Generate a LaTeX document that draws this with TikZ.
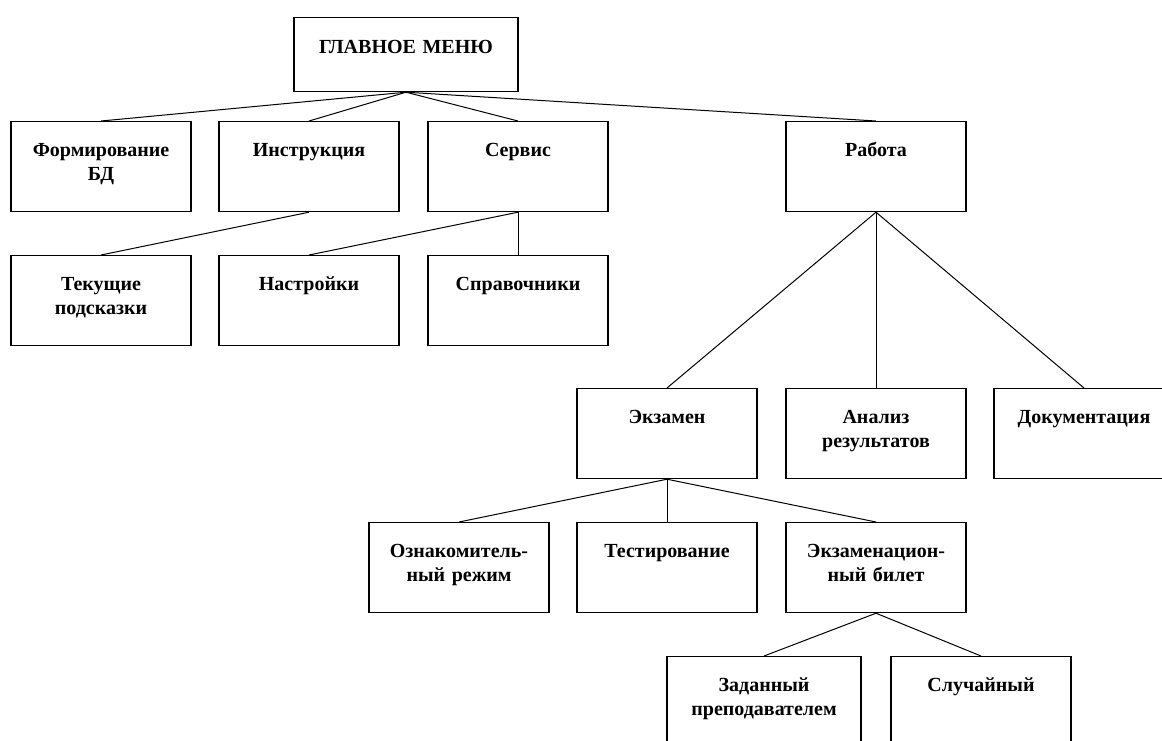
\documentclass[tikz,border=0pt]{standalone}
\usepackage{fontspec}
\setmainfont{Liberation Serif}
\tikzset{
  mbox/.style={draw=black, line width=1.2pt, anchor=north, align=center,
               text width=170pt, inner xsep=5pt, inner ysep=0pt,
               text height=35pt, text depth=55pt,
               font=\bfseries\fontsize{20}{24}\selectfont},
  mtop/.style={mbox, text width=214pt, text height=36pt, text depth=38pt},
  mline/.style={draw=black, line width=1pt},
}

\begin{document}
\begin{tikzpicture}[x=1pt,y=-1pt]
\useasboundingbox (0,0) rectangle (1162,740);
\clip (0,0) rectangle (1162,740);
\node[mtop] (menu) at (406,17) {ГЛАВНОЕ МЕНЮ};
% first level
\node[mbox] (fbd) at (101,121) {Формирование\\БД};
\node[mbox] (instr) at (309,121) {Инструкция};
\node[mbox] (serv) at (518,121) {Сервис};
\node[mbox] (rab) at (876,121) {Работа};
% second level
\node[mbox] (tek) at (101,255) {Текущие\\подсказки};
\node[mbox] (nastr) at (309,255) {Настройки};
\node[mbox] (sprav) at (518,255) {Справочники};
\node[mbox] (ekz) at (667,388) {Экзамен};
\node[mbox] (anal) at (876,388) {Анализ\\результатов};
\node[mbox] (doc) at (1084,388) {Документация};
\node[mbox] (oznak) at (459,522) {Ознакомитель-\\ный режим};
\node[mbox] (test) at (667,522) {Тестирование};
\node[mbox] (bilet) at (876,522) {Экзаменацион-\\ный билет};
\node[mbox,text width=184pt] (zad) at (764,656) {Заданный\\преподавателем};
\node[mbox] (slu) at (981,656) {Случайный};
\draw[mline] (menu.south)--(fbd.north); \draw[mline] (menu.south)--(instr.north);
\draw[mline] (menu.south)--(serv.north); \draw[mline] (menu.south)--(rab.north);
\draw[mline] (instr.south)--(tek.north);
\draw[mline] (serv.south)--(nastr.north); \draw[mline] (serv.south)--(sprav.north);
\draw[mline] (rab.south)--(ekz.north); \draw[mline] (rab.south)--(anal.north);
\draw[mline] (rab.south)--(doc.north);
\draw[mline] (ekz.south)--(oznak.north); \draw[mline] (ekz.south)--(test.north);
\draw[mline] (ekz.south)--(bilet.north);
\draw[mline] (bilet.south)--(zad.north); \draw[mline] (bilet.south)--(slu.north);
\end{tikzpicture}
\end{document}
